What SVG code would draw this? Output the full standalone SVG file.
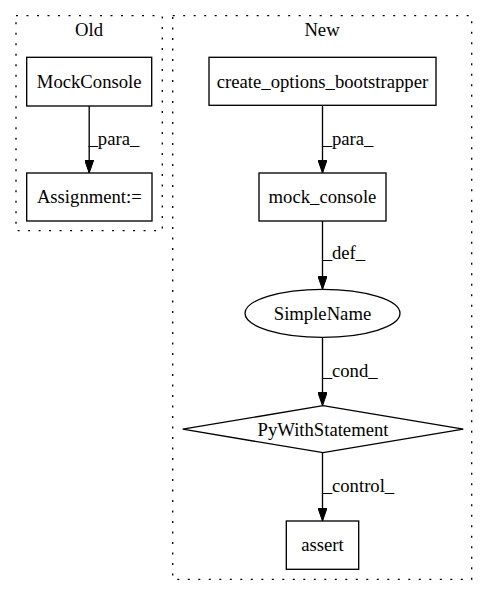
<svg xmlns="http://www.w3.org/2000/svg" width="488" height="596" viewBox="0 0 488 596">
  <style>
    text { font-family: "Liberation Serif", "Times New Roman", serif; font-size: 18.67px; fill: #000; }
    .mid { text-anchor: middle; }
    .cluster { fill: none; stroke: #000; stroke-width: 1.33; stroke-dasharray: 2 8.5; }
    .node { fill: #fff; stroke: #000; stroke-width: 1.33; }
    .edge { fill: none; stroke: #000; stroke-width: 1.33; marker-end: url(#arrow); }
  </style>
  <defs>
    <marker id="arrow" viewBox="0 0 13.33 9.33" refX="13.33" refY="4.67" markerWidth="13.33" markerHeight="9.33" markerUnits="userSpaceOnUse" orient="auto">
      <path d="M0,0 L13.33,4.67 L0,9.33 Z" fill="#000" stroke="#000" stroke-width="1"/>
    </marker>
  </defs>
  <rect width="488" height="596" fill="#fff"/>

  <!-- clusters -->
  <g id="cluster_old">
    <rect class="cluster" x="16" y="15.7" width="146.3" height="215"/>
    <text class="mid" x="89" y="35.5">Old</text>
  </g>
  <g id="cluster_new">
    <rect class="cluster" x="172.7" y="15.7" width="299" height="563.6"/>
    <text class="mid" x="322" y="35.5">New</text>
  </g>

  <!-- connectors -->
  <g id="edges">
    <line class="edge" x1="89.2" y1="106" x2="89.2" y2="173"/>
    <text x="88.5" y="145">_para_</text>
    <line class="edge" x1="322.5" y1="105.3" x2="322.5" y2="173"/>
    <text x="322.7" y="145">_para_</text>
    <line class="edge" x1="322.5" y1="221" x2="322.5" y2="289.3"/>
    <text x="322.7" y="259">_def_</text>
    <line class="edge" x1="322.5" y1="337.3" x2="322.5" y2="405.7"/>
    <text x="322.7" y="377">_cond_</text>
    <line class="edge" x1="322.5" y1="452.7" x2="322.5" y2="521"/>
    <text x="322.7" y="492">_control_</text>
  </g>

  <!-- nodes -->
  <g id="MockConsole">
    <rect class="node" x="26.7" y="57.3" width="125" height="48.7"/>
    <text class="mid" x="89.2" y="87.7">MockConsole</text>
  </g>
  <g id="Assignment">
    <rect class="node" x="26.7" y="173" width="125.3" height="48"/>
    <text class="mid" x="89.3" y="203.2">Assignment:=</text>
  </g>
  <g id="create_options_bootstrapper">
    <rect class="node" x="209" y="57.3" width="227" height="48"/>
    <text class="mid" x="322.5" y="87.5">create_options_bootstrapper</text>
  </g>
  <g id="mock_console">
    <rect class="node" x="259" y="173" width="127" height="48"/>
    <text class="mid" x="322.5" y="203.2">mock_console</text>
  </g>
  <g id="SimpleName">
    <ellipse class="node" cx="322.5" cy="313.3" rx="77.5" ry="24"/>
    <text class="mid" x="322.5" y="319.5">SimpleName</text>
  </g>
  <g id="PyWithStatement">
    <polygon class="node" points="323,405.7 463.3,429.2 323,452.7 182.7,429.2"/>
    <text class="mid" x="323" y="435.5">PyWithStatement</text>
  </g>
  <g id="assert">
    <rect class="node" x="286.3" y="521" width="72.4" height="48.3"/>
    <text class="mid" x="322.5" y="551.3">assert</text>
  </g>
</svg>
